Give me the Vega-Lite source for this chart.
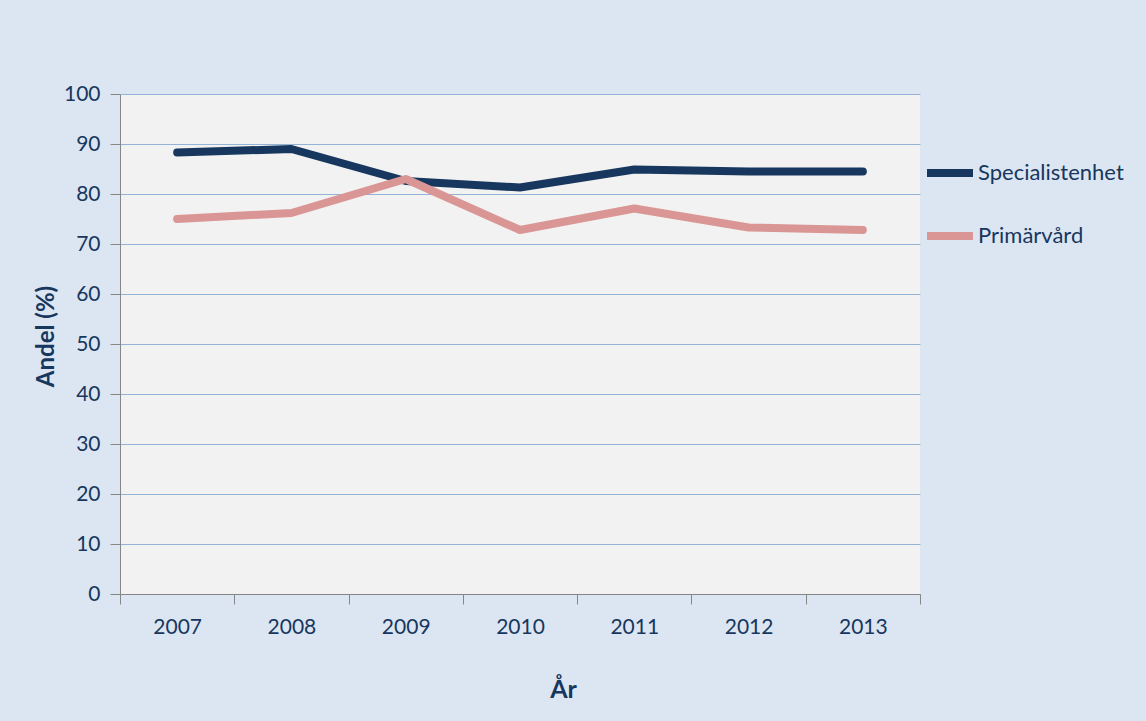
{
  "$schema": "https://vega.github.io/schema/vega-lite/v6.json",
  "width": 800,
  "height": 500,
  "autosize": "none",
  "padding": {"left": 120, "top": 94, "right": 226, "bottom": 127},
  "background": "#DCE6F2",
  "view": {"fill": "#F2F2F2", "stroke": null},
  "config": {"font": "Lato"},
  "data": {
    "values": [
      {"year": "2007", "serie": "Specialistenhet", "andel": 88.3},
      {"year": "2008", "serie": "Specialistenhet", "andel": 89.0},
      {"year": "2009", "serie": "Specialistenhet", "andel": 82.6},
      {"year": "2010", "serie": "Specialistenhet", "andel": 81.3},
      {"year": "2011", "serie": "Specialistenhet", "andel": 84.9},
      {"year": "2012", "serie": "Specialistenhet", "andel": 84.5},
      {"year": "2013", "serie": "Specialistenhet", "andel": 84.5},
      {"year": "2007", "serie": "Primärvård", "andel": 75.0},
      {"year": "2008", "serie": "Primärvård", "andel": 76.2},
      {"year": "2009", "serie": "Primärvård", "andel": 83.0},
      {"year": "2010", "serie": "Primärvård", "andel": 72.8},
      {"year": "2011", "serie": "Primärvård", "andel": 77.1},
      {"year": "2012", "serie": "Primärvård", "andel": 73.3},
      {"year": "2013", "serie": "Primärvård", "andel": 72.8}
    ]
  },
  "mark": {"type": "line", "strokeWidth": 8, "strokeCap": "round", "strokeJoin": "round"},
  "encoding": {
    "x": {
      "field": "year", "type": "ordinal",
      "scale": {"type": "band", "paddingInner": 0, "paddingOuter": 0},
      "axis": {
        "title": "År", "labelAngle": 0, "tickBand": "extent",
        "domainColor": "#868686", "tickColor": "#868686", "tickSize": 10,
        "labelFontSize": 21, "labelColor": "#17375E", "labelPadding": 12,
        "titleFontSize": 25, "titleFontWeight": "bold", "titleColor": "#17375E", "titlePadding": 40,
        "titleX": 443,
        "grid": false
      }
    },
    "y": {
      "field": "andel", "type": "quantitative",
      "scale": {"domain": [0, 100]},
      "axis": {
        "title": "Andel (%)", "values": [0,10,20,30,40,50,60,70,80,90,100], "labelOverlap": false,
        "domainColor": "#868686", "tickColor": "#868686", "tickSize": 10,
        "gridColor": "#95B3D7", "gridOpacity": 1,
        "labelFontSize": 21, "labelColor": "#17375E", "labelPadding": 10,
        "titleFontSize": 24, "titleFontWeight": "bold", "titleColor": "#17375E", "titlePadding": 5,
        "titleY": 242
      }
    },
    "color": {
      "field": "serie", "type": "nominal",
      "scale": {"domain": ["Specialistenhet", "Primärvård"], "range": ["#17375E", "#D99694"]},
      "legend": {
        "title": null, "orient": "none", "legendX": 803, "legendY": 52,
        "symbolType": "stroke", "symbolSize": 2116, "symbolStrokeWidth": 8,
        "labelFontSize": 22, "labelColor": "#17375E", "labelOffset": 1,
        "rowPadding": 20
      }
    }
  }
}
